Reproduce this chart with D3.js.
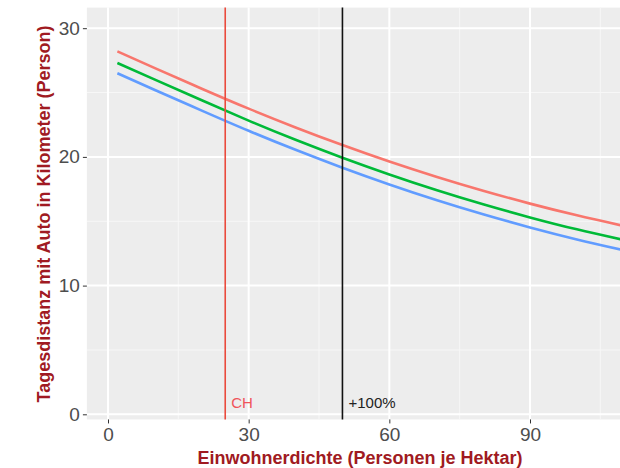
<!DOCTYPE html>
<html>
<head>
<meta charset="utf-8">
<title>Tagesdistanz</title>
<script src="https://d3js.org/d3.v7.min.js"></script>
<style>
  body { margin: 0; background: #fff; }
  svg { display: block; font-family: "Liberation Sans", Arial, sans-serif; }
</style>
</head>
<body>
<svg width="620" height="468"></svg>
<script>
// data
const density = [2, 10, 20, 30, 40, 50, 60, 70, 80, 90, 100, 110];
const distRed   = [28.2, 26.9, 25.3, 23.75, 22.29, 20.92, 19.64, 18.46, 17.37, 16.37, 15.46, 14.64];
const distGreen = [27.3, 26.0, 24.4, 22.82, 21.33, 19.94, 18.64, 17.43, 16.32, 15.30, 14.37, 13.54];
const distBlue  = [26.5, 25.2, 23.6, 22.03, 20.55, 19.16, 17.86, 16.65, 15.54, 14.52, 13.59, 12.75];
const seriesColors = ["#F8766D", "#00BA38", "#619CFF"];

const xTicks = [0, 30, 60, 90];
const xMinor = [15, 45, 75, 105];
const yTicks = [0, 10, 20, 30];
const yMinor = [5, 15, 25];

const refValues = [25, 50];
const refLabels = ["CH", "+100%"];
const refColors = ["#EA4A3C", "#111111"];

const xTitle = "Einwohnerdichte (Personen je Hektar)";
const yTitle = "Tagesdistanz mit Auto in Kilometer (Person)";

const svg = d3.select("svg");
const x = d3.scaleLinear().domain([0, 90]).range([108, 530]);
const y = d3.scaleLinear().domain([0, 30]).range([414.3, 28.2]);

const panel = { x0: x(-4.5), x1: x(118), y0: y(31.6), y1: y(-0.4) };

// panel background
svg.append("rect")
   .attr("x", panel.x0).attr("y", panel.y0)
   .attr("width", panel.x1 - panel.x0).attr("height", panel.y1 - panel.y0)
   .attr("fill", "#EDEDED");

// grid
const grid = svg.append("g");
grid.selectAll(".xminor").data(xMinor).join("line")
    .attr("x1", d => x(d)).attr("x2", d => x(d))
    .attr("y1", panel.y0).attr("y2", panel.y1)
    .attr("stroke", "#F7F7F7").attr("stroke-width", 1);
grid.selectAll(".yminor").data(yMinor).join("line")
    .attr("y1", d => y(d)).attr("y2", d => y(d))
    .attr("x1", panel.x0).attr("x2", panel.x1)
    .attr("stroke", "#F7F7F7").attr("stroke-width", 1);
grid.selectAll(".xmajor").data(xTicks).join("line")
    .attr("x1", d => x(d)).attr("x2", d => x(d))
    .attr("y1", panel.y0).attr("y2", panel.y1)
    .attr("stroke", "#fff").attr("stroke-width", 2);
grid.selectAll(".ymajor").data(yTicks).join("line")
    .attr("y1", d => y(d)).attr("y2", d => y(d))
    .attr("x1", panel.x0).attr("x2", panel.x1)
    .attr("stroke", "#fff").attr("stroke-width", 2);

// curves
const line = d3.line()
    .x(d => x(d[0])).y(d => y(d[1]))
    .curve(d3.curveNatural);
[distRed, distGreen, distBlue].forEach((vals, i) => {
    svg.append("path")
       .datum(density.map((d, j) => [d, vals[j]]))
       .attr("fill", "none")
       .attr("stroke", seriesColors[i])
       .attr("stroke-width", 2.6)
       .attr("d", line);
});

// reference lines + labels
refValues.forEach((v, i) => {
    svg.append("line")
       .attr("x1", x(v)).attr("x2", x(v))
       .attr("y1", panel.y0).attr("y2", panel.y1)
       .attr("stroke", refColors[i]).attr("stroke-width", 1.6);
    svg.append("text")
       .attr("x", x(v) + 6).attr("y", y(0.5))
       .attr("font-size", 15)
       .attr("fill", i === 0 ? "#F0545A" : "#222")
       .text(refLabels[i]);
});

// axes (ggplot style ticks)
const xAxis = svg.append("g")
   .attr("transform", `translate(0,${panel.y1})`)
   .call(d3.axisBottom(x).tickValues(xTicks).tickSize(4).tickPadding(4));
const yAxis = svg.append("g")
   .attr("transform", `translate(${panel.x0},0)`)
   .call(d3.axisLeft(y).tickValues(yTicks).tickSize(4).tickPadding(3));
[xAxis, yAxis].forEach(a => {
    a.select(".domain").remove();
    a.selectAll(".tick line").attr("stroke", "#333");
    a.selectAll(".tick text")
     .attr("fill", "#4D4D4D")
     .attr("font-size", 19)
     .attr("font-family", "Liberation Sans, Arial, sans-serif");
});

// axis titles
svg.append("text")
   .attr("x", 360).attr("y", 464)
   .attr("text-anchor", "middle")
   .attr("font-size", 18).attr("font-weight", "bold")
   .attr("fill", "#A01A22")
   .text(xTitle);
svg.append("text")
   .attr("transform", "translate(50,214) rotate(-90)")
   .attr("text-anchor", "middle")
   .attr("font-size", 18).attr("font-weight", "bold")
   .attr("fill", "#A01A22")
   .text(yTitle);
</script>
</body>
</html>
